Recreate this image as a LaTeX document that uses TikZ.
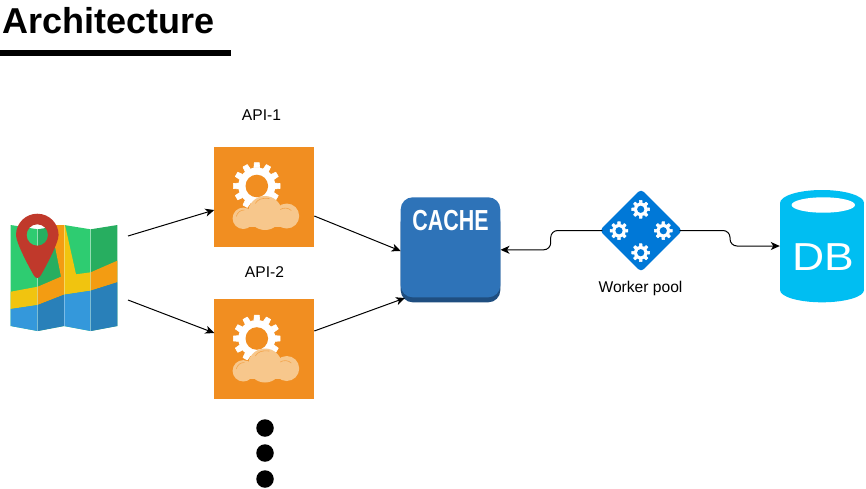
\documentclass[tikz,border=0pt]{standalone}
\usepackage{fontspec}
\setmainfont{Liberation Sans}
\usetikzlibrary{arrows.meta,shapes.geometric}
\definecolor{apiorange}{HTML}{F18E21}
\definecolor{cloudtan}{HTML}{F7C78C}
\definecolor{cachecol}{HTML}{2E73B8}
\definecolor{cachedark}{HTML}{1F4E80}
\definecolor{wpblue}{HTML}{0078D7}
\definecolor{dbblue}{HTML}{00BEF2}
\definecolor{mgl}{HTML}{2ECC71}
\definecolor{mgd}{HTML}{27AE60}
\definecolor{myl}{HTML}{F1C40F}
\definecolor{mor}{HTML}{F39C12}
\definecolor{mbl}{HTML}{3498DB}
\definecolor{mbd}{HTML}{2980B9}
\definecolor{mred}{HTML}{C0392B}
\tikzset{
  x=1pt,y=-1pt,
  link/.style={draw=black,line width=1pt,-{Stealth[length=9pt,width=8pt,inset=2.5pt]}},
  caption/.style={font=\fontsize{15.6}{18}\selectfont,inner sep=0pt,text=black},
  apibox/.style={rectangle,fill=apiorange,draw=none,minimum width=100pt,minimum height=100pt,inner sep=0pt},
  anchorbox/.style={rectangle,draw=none,inner sep=0pt},
  blackdot/.style={circle,fill=black,minimum size=17.5pt,inner sep=0pt},
}
% centre x, centre y, outer radius, root radius, hole radius, teeth, tooth half-angle, colours
\newcommand{\cogwheel}[9]{%
  \fill[#8] (#1,#2) circle[radius=#4];
  \foreach \k in {1,...,#6}{%
    \pgfmathsetmacro{\ang}{\k*360/#6}%
    \fill[#8,shift={(#1,#2)},line join=round,draw=#8,line width=0.6pt]
      (\ang-#7*1.5:#4) -- (\ang-#7:#3) -- (\ang+#7:#3) -- (\ang+#7*1.5:#4) -- cycle;
  }
  \fill[#9] (#1,#2) circle[radius=#5];
}
\newcommand{\apiart}[2]{%
  \begin{scope}[shift={(#1,#2)}]
    \cogwheel{-7.5}{-10.5}{23.5}{18.5}{11.3}{12}{6}{white}{apiorange}
    \fill[cloudtan] (-21,21.8) circle[radius=10.7];
    \fill[cloudtan] (0.7,16.5) circle[radius=17];
    \fill[cloudtan] (22.4,19.5) circle[radius=12.5];
    \fill[cloudtan] (-21,20) rectangle (22,30);
    \draw[apiorange,line width=0.6pt,opacity=.6] (-28,20) .. controls (-27,16) and (-24,13.5) .. (-20,13.5);
    \draw[apiorange,line width=0.6pt,opacity=.6] (-9,7) .. controls (-7,3) and (-2,1) .. (5,2);
    \draw[apiorange,line width=0.6pt,opacity=.6] (16,13) .. controls (19,11) and (24,11) .. (27,14);
  \end{scope}
}
\begin{document}
\begin{tikzpicture}
\useasboundingbox (0,0) rectangle (866,488);
% title
\node[anchor=base west,inner sep=0pt,font=\fontsize{36}{40}\selectfont\bfseries] (title) at (2,33) {Architecture};
\fill[black] (0,50) rectangle (231,55.5);

% map
\fill[mgl] (10.7,225) -- (37.7,229.3) -- (37.7,331) -- (10.7,326) -- cycle;
\fill[mgd] (37.7,229.3) -- (64,225) -- (64,326) -- (37.7,331) -- cycle;
\fill[mgl] (64,225) -- (90.7,229.3) -- (90.7,331) -- (64,326) -- cycle;
\fill[mgd] (90.7,229.3) -- (117.3,225) -- (117.3,326) -- (90.7,331) -- cycle;
\fill[myl] (10.7,291.7) -- (37.7,286.7) -- (37.7,305) -- (10.7,309) -- cycle;
\fill[mor] (50.7,225) -- (64,225) -- (64,294.7) -- (37.7,305) -- (37.7,286.7) -- (61,276.7) -- cycle;
\fill[myl] (64,225) -- (65,225) -- (76,274.3) -- (90.7,272.3) -- (90.7,290.7) -- (64,294.7) -- cycle;
\fill[mor] (90.7,272.3) -- (117.3,260.7) -- (117.3,282.3) -- (90.7,290.7) -- cycle;
\fill[mbl] (10.7,309) -- (37.7,305) -- (37.7,331) -- (10.7,326) -- cycle;
\fill[mbd] (37.7,305) -- (64,294.7) -- (64,326) -- (37.7,331) -- cycle;
\fill[mbl] (64,294.7) -- (90.7,290.7) -- (90.7,331) -- (64,326) -- cycle;
\fill[mbd] (90.7,290.7) -- (117.3,282.3) -- (117.3,326) -- (90.7,331) -- cycle;
\draw[white,opacity=.35,line width=0.5pt] (37.7,229.3) -- (37.7,331) (64,225) -- (64,326) (90.7,229.3) -- (90.7,331);
\fill[mred,even odd rule] (16,235) .. controls (16,223.2) and (25.5,213.7) .. (37.3,213.7)
  .. controls (49.1,213.7) and (58.6,223.2) .. (58.6,235)
  .. controls (58.6,243) and (45,268) .. (41,275)
  .. controls (39,279) and (35.6,279) .. (33.6,275)
  .. controls (29.6,268) and (16,243) .. (16,235) -- cycle
  (37.3,235) circle[radius=10.7];
\node[anchorbox,minimum width=107pt,minimum height=118pt] (map) at (64,272) {};

% API boxes
\node[apibox] (api1) at (264.3,196.5) {};
\node[apibox] (api2) at (264.3,349) {};
\apiart{264.3}{196.5}
\apiart{264.3}{349}
\node[caption] (lab1) at (261.5,115.5) {API-1};
\node[caption] (lab2) at (264.5,272.5) {API-2};

% dots
\node[blackdot] (d1) at (265,428) {};
\node[blackdot] (d2) at (265,453) {};
\node[blackdot] (d3) at (265,479) {};

% cache
\fill[cachedark,rounded corners=12pt] (400.7,210) rectangle (500.3,302.3);
\fill[cachecol,rounded corners=12pt] (400.7,197.3) rectangle (500.3,297.3);
\node[anchorbox,minimum width=99.6pt,minimum height=105pt] (cache) at (450.5,249.8) {};
\node[text=white,inner sep=0pt,anchor=base,font=\fontsize{29}{32}\selectfont\bfseries,xscale=.74] (cachetext) at (450.5,230.5) {CACHE};

% worker pool
\node[diamond,aspect=1,fill=wpblue,rounded corners=4pt,minimum width=83pt,minimum height=83pt,inner sep=0pt] (wp) at (641,230.5) {};
\cogwheel{640.7}{209.3}{9}{6.8}{3.6}{8}{8}{white}{wpblue}
\cogwheel{619}{230.7}{9}{6.8}{3.6}{8}{8}{white}{wpblue}
\cogwheel{663.3}{230.7}{9}{6.8}{3.6}{8}{8}{white}{wpblue}
\cogwheel{640.7}{252.7}{9}{6.8}{3.6}{8}{8}{white}{wpblue}
\node[caption] (wplab) at (640.5,288) {Worker pool};

% database
\fill[dbblue] (780,203) rectangle (864,290);
\fill[dbblue] (822,203) ellipse[x radius=42,y radius=13];
\fill[dbblue] (822,290) ellipse[x radius=42,y radius=12.3];
\fill[white] (823.3,205) ellipse[x radius=31.7,y radius=7.7];
\node[anchorbox,minimum width=84pt,minimum height=112pt] (db) at (822,246) {};
\node[text=white,inner sep=0pt,anchor=base,font=\fontsize{39}{42}\selectfont,xscale=1.14] (dbtext) at (823,270) {DB};

% connectors
\coordinate (m1) at (128,236);
\coordinate (m2) at (128,300);
\coordinate (a1in) at (214.3,210);
\coordinate (a2in) at (214.3,333);
\coordinate (a1out) at (314.3,216);
\coordinate (a2out) at (314.3,331);
\coordinate (cin1) at (400.7,251);
\coordinate (cin2) at (405,298);
\draw[link] (m1) -- (a1in);
\draw[link] (m2) -- (a2in);
\draw[link] (a1out) -- (cin1);
\draw[link] (a2out) -- (cin2);
\coordinate (bend1) at (550.7,230.5);
\coordinate (bend2) at (550.7,249.8);
\draw[link,rounded corners=7pt,shorten <=-3pt] (wp.west) -- (bend1) -- (bend2) -- (cache.east);
\coordinate (bend3) at (730,230.5);
\coordinate (bend4) at (730,246);
\draw[link,rounded corners=7pt,shorten <=-3pt] (wp.east) -- (bend3) -- (bend4) -- (db.west);
\end{tikzpicture}
\end{document}
